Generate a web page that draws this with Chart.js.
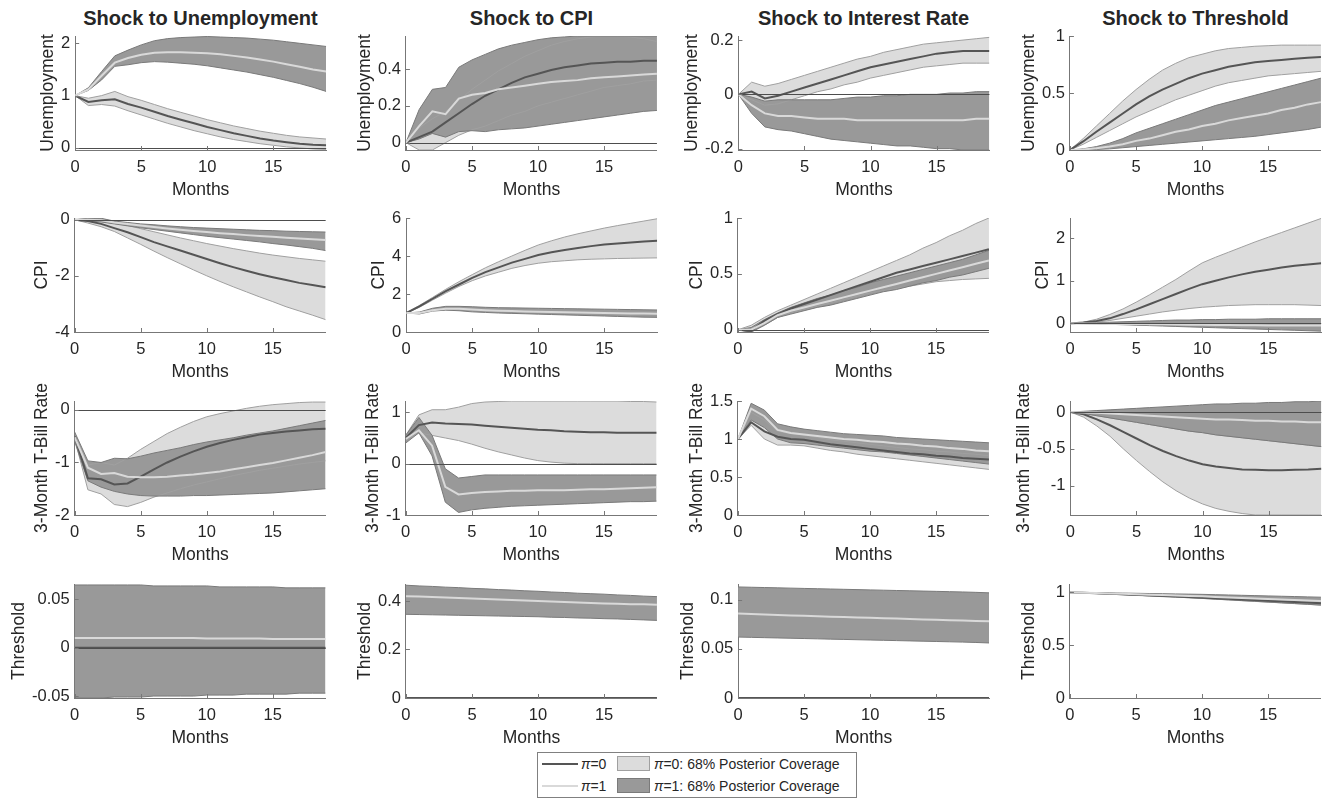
<!DOCTYPE html>
<html>
<head>
<meta charset="utf-8">
<script src="https://cdn.jsdelivr.net/npm/chart.js@4/dist/chart.umd.min.js"></script>
<style>
  body { margin: 0; width: 1326px; height: 798px; background: #fff; position: relative; overflow: hidden;
         font-family: "Liberation Sans", Arial, sans-serif; color: #262626; }
  canvas { position: absolute; }
  .ttl { position: absolute; top: 7px; width: 251px; text-align: center; font-weight: bold; font-size: 20px; white-space: nowrap; }
  #legend { position: absolute; left: 537px; top: 752px; width: 318px; height: 44px; border: 1px solid #808080;
            background: #fff; font-size: 14px; }
  #legend .row { position: absolute; left: 0; height: 22px; width: 100%; }
  #legend .ln { position: absolute; left: 4px; top: 10px; width: 36px; height: 2px; }
  #legend .lt { position: absolute; left: 43px; top: 3px; }
  #legend .bx { position: absolute; left: 79px; top: 3px; width: 33px; height: 15px; box-sizing: border-box; }
  #legend .bt { position: absolute; left: 116px; top: 3px; }
</style>
</head>
<body>
<div id="legend">
  <div class="row" style="top:0">
    <div class="ln" style="background:#555"></div><div class="lt"><i>π</i>=0</div>
    <div class="bx" style="background:#dcdcdc;border:1px solid #a0a0a0"></div><div class="bt"><i>π</i>=0: 68% Posterior Coverage</div>
  </div>
  <div class="row" style="top:22px">
    <div class="ln" style="background:#d9d9d9"></div><div class="lt"><i>π</i>=1</div>
    <div class="bx" style="background:#999;border:1px solid #7a7a7a"></div><div class="bt"><i>π</i>=1: 68% Posterior Coverage</div>
  </div>
</div>
<script>
const months = [0, 1, 2, 3, 4, 5, 6, 7, 8, 9, 10, 11, 12, 13, 14, 15, 16, 17, 18, 19];
const xTicks = [0, 5, 10, 15];
const shockTitles = ['Shock to Unemployment', 'Shock to CPI', 'Shock to Interest Rate', 'Shock to Threshold'];
const varLabels = ['Unemployment', 'CPI', '3-Month T-Bill Rate', 'Threshold'];

// m0 = pi=0 median, lo0/hi0 = its 68% band; m1/lo1/hi1 = same for pi=1
// row 1: unemployment
const r1c1_m0 = [1, 0.88, 0.91, 0.93, 0.84, 0.77, 0.69, 0.61, 0.54, 0.47, 0.40, 0.34, 0.28, 0.23, 0.18, 0.14, 0.11, 0.08, 0.06, 0.05];
const r1c1_hi0 = [1, 0.95, 1.0, 1.08, 0.98, 0.91, 0.83, 0.75, 0.68, 0.61, 0.54, 0.48, 0.42, 0.37, 0.32, 0.28, 0.24, 0.21, 0.19, 0.17];
const r1c1_lo0 = [1, 0.81, 0.83, 0.8, 0.71, 0.63, 0.55, 0.47, 0.4, 0.33, 0.27, 0.21, 0.16, 0.12, 0.08, 0.05, 0.02, 0.0, -0.02, -0.03];
const r1c1_m1 = [1, 1.12, 1.38, 1.63, 1.72, 1.78, 1.82, 1.83, 1.83, 1.82, 1.81, 1.79, 1.76, 1.73, 1.69, 1.65, 1.6, 1.55, 1.5, 1.46];
const r1c1_hi1 = [1, 1.15, 1.46, 1.76, 1.87, 1.97, 2.05, 2.09, 2.11, 2.12, 2.13, 2.12, 2.11, 2.1, 2.08, 2.06, 2.03, 2.0, 1.97, 1.94];
const r1c1_lo1 = [1, 1.1, 1.3, 1.56, 1.59, 1.63, 1.65, 1.64, 1.62, 1.6, 1.57, 1.53, 1.49, 1.45, 1.4, 1.35, 1.29, 1.23, 1.16, 1.08];

const r1c2_m0 = [0, 0.03, 0.06, 0.11, 0.16, 0.21, 0.255, 0.29, 0.325, 0.355, 0.375, 0.395, 0.41, 0.42, 0.43, 0.435, 0.44, 0.44, 0.445, 0.445];
const r1c2_hi0 = [0, 0.08, 0.13, 0.17, 0.23, 0.29, 0.34, 0.39, 0.43, 0.47, 0.5, 0.53, 0.55, 0.565, 0.575, 0.58, 0.58, 0.575, 0.565, 0.55];
const r1c2_lo0 = [0, -0.04, -0.04, 0.0, 0.04, 0.07, 0.09, 0.12, 0.15, 0.17, 0.2, 0.22, 0.24, 0.26, 0.28, 0.3, 0.31, 0.32, 0.335, 0.34];
const r1c2_m1 = [0, 0.09, 0.17, 0.155, 0.24, 0.26, 0.27, 0.29, 0.3, 0.31, 0.32, 0.33, 0.335, 0.34, 0.35, 0.355, 0.36, 0.365, 0.37, 0.375];
const r1c2_hi1 = [0, 0.18, 0.29, 0.3, 0.41, 0.45, 0.48, 0.51, 0.53, 0.545, 0.56, 0.57, 0.575, 0.58, 0.58, 0.58, 0.58, 0.58, 0.58, 0.58];
const r1c2_lo1 = [0, 0.02, 0.05, 0.03, 0.06, 0.065, 0.06, 0.07, 0.075, 0.08, 0.09, 0.1, 0.11, 0.12, 0.13, 0.14, 0.15, 0.16, 0.17, 0.175];

const r1c3_m0 = [0, 0.01, -0.015, -0.005, 0.01, 0.025, 0.04, 0.055, 0.07, 0.085, 0.1, 0.11, 0.12, 0.13, 0.14, 0.15, 0.155, 0.16, 0.16, 0.16];
const r1c3_hi0 = [0, 0.045, 0.03, 0.04, 0.055, 0.07, 0.085, 0.1, 0.115, 0.13, 0.14, 0.155, 0.165, 0.175, 0.185, 0.19, 0.195, 0.2, 0.205, 0.21];
const r1c3_lo0 = [0, -0.02, -0.04, -0.035, -0.02, -0.005, 0.01, 0.02, 0.035, 0.045, 0.06, 0.07, 0.08, 0.09, 0.1, 0.105, 0.11, 0.115, 0.115, 0.115];
const r1c3_m1 = [0, -0.04, -0.07, -0.08, -0.08, -0.085, -0.09, -0.09, -0.09, -0.095, -0.095, -0.095, -0.095, -0.095, -0.095, -0.095, -0.095, -0.095, -0.09, -0.09];
const r1c3_hi1 = [0, -0.01, -0.025, -0.02, -0.02, -0.02, -0.02, -0.02, -0.015, -0.01, -0.01, -0.005, -0.005, 0, 0, 0, 0.005, 0.005, 0.01, 0.01];
const r1c3_lo1 = [0, -0.07, -0.12, -0.13, -0.135, -0.145, -0.155, -0.165, -0.17, -0.175, -0.18, -0.185, -0.19, -0.19, -0.195, -0.2, -0.2, -0.205, -0.205, -0.205];

const r1c4_m0 = [0, 0.075, 0.16, 0.24, 0.32, 0.4, 0.47, 0.53, 0.58, 0.63, 0.67, 0.7, 0.73, 0.75, 0.77, 0.78, 0.79, 0.8, 0.81, 0.815];
const r1c4_hi0 = [0, 0.1, 0.21, 0.32, 0.43, 0.53, 0.62, 0.7, 0.76, 0.81, 0.84, 0.87, 0.89, 0.9, 0.91, 0.915, 0.92, 0.92, 0.92, 0.92];
const r1c4_lo0 = [0, 0.05, 0.11, 0.17, 0.23, 0.29, 0.34, 0.39, 0.44, 0.48, 0.52, 0.56, 0.59, 0.61, 0.63, 0.65, 0.66, 0.67, 0.68, 0.69];
const r1c4_m1 = [0, 0.005, 0.015, 0.03, 0.05, 0.08, 0.1, 0.13, 0.16, 0.18, 0.21, 0.23, 0.26, 0.28, 0.3, 0.32, 0.35, 0.37, 0.4, 0.42];
const r1c4_hi1 = [0, 0.01, 0.03, 0.06, 0.1, 0.15, 0.19, 0.23, 0.27, 0.31, 0.35, 0.39, 0.42, 0.45, 0.48, 0.51, 0.54, 0.57, 0.6, 0.63];
const r1c4_lo1 = [0, 0, 0.005, 0.01, 0.02, 0.03, 0.04, 0.05, 0.06, 0.07, 0.08, 0.09, 0.1, 0.11, 0.12, 0.135, 0.15, 0.165, 0.18, 0.2];

// row 2: CPI
const r2c1_m0 = [0, -0.05, -0.15, -0.3, -0.45, -0.62, -0.8, -0.95, -1.1, -1.25, -1.4, -1.55, -1.69, -1.82, -1.94, -2.05, -2.15, -2.25, -2.33, -2.41];
const r2c1_hi0 = [0, 0.04, 0.02, -0.08, -0.2, -0.32, -0.43, -0.54, -0.65, -0.75, -0.85, -0.94, -1.03, -1.11, -1.19, -1.26, -1.32, -1.38, -1.43, -1.48];
const r2c1_lo0 = [0, -0.12, -0.25, -0.42, -0.65, -0.88, -1.12, -1.35, -1.57, -1.79, -2.0, -2.2, -2.39, -2.57, -2.75, -2.92, -3.1, -3.25, -3.4, -3.56];
const r2c1_m1 = [0, 0, -0.02, -0.1, -0.15, -0.21, -0.26, -0.31, -0.36, -0.4, -0.44, -0.48, -0.51, -0.55, -0.58, -0.61, -0.64, -0.67, -0.7, -0.72];
const r2c1_hi1 = [0, 0.05, 0.05, -0.05, -0.1, -0.15, -0.18, -0.22, -0.25, -0.28, -0.3, -0.32, -0.34, -0.36, -0.38, -0.39, -0.41, -0.42, -0.43, -0.44];
const r2c1_lo1 = [0, -0.04, -0.08, -0.15, -0.22, -0.29, -0.35, -0.41, -0.47, -0.53, -0.59, -0.64, -0.69, -0.74, -0.79, -0.85, -0.9, -0.96, -1.02, -1.1];

const r2c2_m0 = [1, 1.35, 1.75, 2.15, 2.5, 2.85, 3.15, 3.4, 3.65, 3.85, 4.05, 4.2, 4.32, 4.42, 4.52, 4.6, 4.66, 4.71, 4.76, 4.8];
const r2c2_hi0 = [1, 1.4, 1.82, 2.25, 2.65, 3.02, 3.38, 3.7, 4.0, 4.3, 4.58, 4.8, 5.0, 5.17, 5.32, 5.47, 5.6, 5.72, 5.84, 5.96];
const r2c2_lo0 = [1, 1.3, 1.68, 2.05, 2.4, 2.7, 2.95, 3.15, 3.35, 3.5, 3.62, 3.7, 3.75, 3.8, 3.83, 3.85, 3.87, 3.88, 3.89, 3.9];
const r2c2_m1 = [1, 1.0, 1.15, 1.22, 1.22, 1.18, 1.15, 1.12, 1.1, 1.08, 1.06, 1.05, 1.04, 1.02, 1.01, 1.0, 0.99, 0.98, 0.97, 0.96];
const r2c2_hi1 = [1, 1.05, 1.25, 1.35, 1.35, 1.33, 1.3, 1.28, 1.27, 1.26, 1.25, 1.24, 1.23, 1.22, 1.21, 1.2, 1.19, 1.18, 1.17, 1.16];
const r2c2_lo1 = [1, 0.95, 1.1, 1.15, 1.12, 1.06, 1.03, 1.0, 0.98, 0.96, 0.94, 0.92, 0.9, 0.88, 0.86, 0.84, 0.82, 0.8, 0.78, 0.77];

const r2c3_m0 = [0, -0.01, 0.08, 0.14, 0.19, 0.23, 0.27, 0.31, 0.35, 0.39, 0.43, 0.47, 0.51, 0.54, 0.57, 0.6, 0.63, 0.66, 0.69, 0.72];
const r2c3_hi0 = [0, 0.04, 0.11, 0.17, 0.22, 0.27, 0.32, 0.37, 0.42, 0.47, 0.52, 0.57, 0.62, 0.67, 0.73, 0.78, 0.84, 0.89, 0.95, 1.0];
const r2c3_lo0 = [0, -0.02, 0.04, 0.11, 0.15, 0.18, 0.21, 0.24, 0.27, 0.3, 0.33, 0.35, 0.37, 0.39, 0.41, 0.43, 0.44, 0.45, 0.455, 0.46];
const r2c3_m1 = [0, 0.0, 0.06, 0.13, 0.17, 0.2, 0.23, 0.26, 0.29, 0.32, 0.35, 0.38, 0.41, 0.44, 0.47, 0.5, 0.53, 0.56, 0.59, 0.62];
const r2c3_hi1 = [0, 0.02, 0.09, 0.15, 0.2, 0.24, 0.28, 0.31, 0.35, 0.38, 0.42, 0.45, 0.48, 0.51, 0.54, 0.57, 0.6, 0.63, 0.67, 0.71];
const r2c3_lo1 = [0, -0.02, 0.04, 0.11, 0.14, 0.17, 0.2, 0.22, 0.25, 0.28, 0.31, 0.34, 0.36, 0.39, 0.42, 0.44, 0.47, 0.49, 0.52, 0.55];

const r2c4_m0 = [0, 0.02, 0.06, 0.12, 0.22, 0.33, 0.45, 0.57, 0.69, 0.81, 0.92, 1.0, 1.08, 1.15, 1.21, 1.26, 1.31, 1.35, 1.38, 1.41];
const r2c4_hi0 = [0, 0.03, 0.1, 0.21, 0.34, 0.5, 0.67, 0.85, 1.03, 1.23, 1.42, 1.55, 1.67, 1.79, 1.91, 2.02, 2.13, 2.24, 2.35, 2.46];
const r2c4_lo0 = [0, 0.01, 0.03, 0.07, 0.12, 0.17, 0.22, 0.27, 0.31, 0.35, 0.38, 0.4, 0.42, 0.43, 0.44, 0.44, 0.44, 0.44, 0.43, 0.42];
const r2c4_m1 = [0, 0, -0.005, -0.01, -0.01, -0.015, -0.02, -0.02, -0.025, -0.03, -0.03, -0.035, -0.035, -0.04, -0.04, -0.045, -0.045, -0.05, -0.05, -0.05];
const r2c4_hi1 = [0, 0.01, 0.02, 0.03, 0.04, 0.05, 0.06, 0.07, 0.08, 0.08, 0.09, 0.09, 0.1, 0.1, 0.1, 0.11, 0.11, 0.11, 0.11, 0.11];
const r2c4_lo1 = [0, -0.005, -0.01, -0.02, -0.03, -0.04, -0.05, -0.06, -0.07, -0.08, -0.09, -0.1, -0.11, -0.12, -0.13, -0.14, -0.15, -0.16, -0.17, -0.18];

// row 3: 3-month T-bill rate
const r3c1_m0 = [-0.5, -1.3, -1.32, -1.42, -1.4, -1.27, -1.13, -1.0, -0.89, -0.79, -0.7, -0.63, -0.57, -0.52, -0.47, -0.44, -0.41, -0.39, -0.37, -0.36];
const r3c1_hi0 = [-0.45, -1.05, -1.0, -1.05, -0.92, -0.75, -0.6, -0.45, -0.33, -0.22, -0.13, -0.07, -0.02, 0.03, 0.07, 0.1, 0.12, 0.14, 0.15, 0.15];
const r3c1_lo0 = [-0.55, -1.52, -1.6, -1.8, -1.84, -1.76, -1.66, -1.58, -1.5, -1.43, -1.37, -1.31, -1.25, -1.2, -1.15, -1.11, -1.07, -1.03, -1.0, -0.97];
const r3c1_m1 = [-0.52, -1.1, -1.22, -1.2, -1.27, -1.28, -1.28, -1.27, -1.25, -1.23, -1.2, -1.17, -1.13, -1.09, -1.05, -1.01, -0.96, -0.91, -0.86, -0.8];
const r3c1_hi1 = [-0.42, -0.97, -1.0, -0.92, -0.93, -0.88, -0.82, -0.77, -0.72, -0.66, -0.61, -0.57, -0.53, -0.48, -0.44, -0.4, -0.35, -0.3, -0.25, -0.2];
const r3c1_lo1 = [-0.6, -1.35, -1.47, -1.55, -1.6, -1.63, -1.64, -1.64, -1.64, -1.63, -1.63, -1.62, -1.61, -1.6, -1.59, -1.58, -1.56, -1.54, -1.52, -1.5];

const r3c2_m0 = [0.5, 0.75, 0.8, 0.78, 0.77, 0.76, 0.74, 0.72, 0.7, 0.68, 0.66, 0.65, 0.63, 0.62, 0.61, 0.61, 0.6, 0.6, 0.6, 0.6];
const r3c2_hi0 = [0.55, 0.95, 1.05, 1.05, 1.1, 1.17, 1.2, 1.21, 1.22, 1.22, 1.22, 1.22, 1.22, 1.22, 1.22, 1.22, 1.22, 1.21, 1.21, 1.2];
const r3c2_lo0 = [0.45, 0.6, 0.55, 0.5, 0.45, 0.38, 0.3, 0.23, 0.17, 0.11, 0.06, 0.03, 0.01, 0.0, 0, 0, 0, 0, 0, 0];
const r3c2_m1 = [0.48, 0.65, 0.35, -0.45, -0.6, -0.57, -0.55, -0.54, -0.53, -0.53, -0.52, -0.52, -0.52, -0.51, -0.5, -0.5, -0.49, -0.48, -0.47, -0.46];
const r3c2_hi1 = [0.55, 0.9, 0.55, -0.1, -0.28, -0.25, -0.22, -0.22, -0.22, -0.22, -0.22, -0.22, -0.22, -0.22, -0.22, -0.22, -0.22, -0.22, -0.22, -0.22];
const r3c2_lo1 = [0.4, 0.6, 0.15, -0.75, -0.95, -0.9, -0.87, -0.85, -0.83, -0.82, -0.81, -0.8, -0.79, -0.78, -0.77, -0.76, -0.75, -0.74, -0.74, -0.73];

const r3c3_m0 = [1.0, 1.22, 1.1, 1.03, 1.0, 0.99, 0.96, 0.93, 0.91, 0.89, 0.87, 0.85, 0.83, 0.81, 0.8, 0.78, 0.77, 0.75, 0.74, 0.73];
const r3c3_hi0 = [1.0, 1.35, 1.25, 1.1, 1.07, 1.05, 1.02, 0.99, 0.97, 0.95, 0.93, 0.91, 0.89, 0.87, 0.86, 0.84, 0.83, 0.81, 0.8, 0.78];
const r3c3_lo0 = [1.0, 1.18, 1.0, 0.92, 0.92, 0.91, 0.88, 0.85, 0.83, 0.8, 0.78, 0.76, 0.74, 0.72, 0.7, 0.68, 0.66, 0.64, 0.62, 0.6];
const r3c3_m1 = [1.0, 1.4, 1.3, 1.12, 1.08, 1.06, 1.04, 1.02, 1.0, 0.99, 0.97, 0.96, 0.94, 0.93, 0.91, 0.9, 0.88, 0.87, 0.85, 0.84];
const r3c3_hi1 = [1.0, 1.47, 1.38, 1.2, 1.16, 1.13, 1.11, 1.09, 1.07, 1.06, 1.05, 1.04, 1.02, 1.01, 1.0, 0.99, 0.98, 0.97, 0.96, 0.95];
const r3c3_lo1 = [1.0, 1.25, 1.15, 1.0, 0.95, 0.94, 0.92, 0.9, 0.88, 0.86, 0.84, 0.83, 0.81, 0.79, 0.77, 0.75, 0.73, 0.71, 0.69, 0.67];

const r3c4_m0 = [0, -0.03, -0.1, -0.18, -0.27, -0.36, -0.45, -0.53, -0.6, -0.66, -0.71, -0.74, -0.76, -0.78, -0.785, -0.79, -0.79, -0.785, -0.78, -0.77];
const r3c4_hi0 = [0, -0.02, -0.05, -0.08, -0.11, -0.14, -0.17, -0.2, -0.23, -0.26, -0.28, -0.31, -0.33, -0.35, -0.37, -0.39, -0.41, -0.43, -0.45, -0.47];
const r3c4_lo0 = [0, -0.07, -0.19, -0.33, -0.5, -0.66, -0.81, -0.95, -1.07, -1.17, -1.25, -1.31, -1.35, -1.38, -1.4, -1.4, -1.4, -1.4, -1.4, -1.4];
const r3c4_m1 = [0, -0.005, -0.01, -0.02, -0.03, -0.04, -0.05, -0.06, -0.07, -0.08, -0.09, -0.1, -0.1, -0.11, -0.12, -0.12, -0.13, -0.13, -0.14, -0.14];
const r3c4_hi1 = [0, 0.01, 0.02, 0.03, 0.04, 0.05, 0.06, 0.07, 0.08, 0.09, 0.1, 0.11, 0.11, 0.12, 0.12, 0.13, 0.13, 0.14, 0.14, 0.15];
const r3c4_lo1 = [0, -0.02, -0.05, -0.08, -0.11, -0.14, -0.17, -0.2, -0.23, -0.26, -0.28, -0.31, -0.33, -0.35, -0.37, -0.39, -0.41, -0.43, -0.45, -0.47];

// row 4: threshold
const r4c1_m0 = [0, 0, 0, 0, 0, 0, 0, 0, 0, 0, 0, 0, 0, 0, 0, 0, 0, 0, 0, 0];
const r4c1_hi0 = [0, 0, 0, 0, 0, 0, 0, 0, 0, 0, 0, 0, 0, 0, 0, 0, 0, 0, 0, 0];
const r4c1_lo0 = [0, 0, 0, 0, 0, 0, 0, 0, 0, 0, 0, 0, 0, 0, 0, 0, 0, 0, 0, 0];
const r4c1_m1 = [0.01, 0.01, 0.01, 0.01, 0.01, 0.01, 0.01, 0.01, 0.01, 0.01, 0.0095, 0.0095, 0.0095, 0.0095, 0.0095, 0.009, 0.009, 0.009, 0.009, 0.009];
const r4c1_hi1 = [0.065, 0.065, 0.065, 0.065, 0.065, 0.065, 0.064, 0.064, 0.064, 0.064, 0.064, 0.063, 0.063, 0.063, 0.063, 0.063, 0.062, 0.062, 0.062, 0.062];
const r4c1_lo1 = [-0.052, -0.052, -0.052, -0.051, -0.051, -0.051, -0.05, -0.05, -0.05, -0.05, -0.049, -0.049, -0.049, -0.048, -0.048, -0.048, -0.048, -0.047, -0.047, -0.047];

const r4c2_m0 = [0, 0, 0, 0, 0, 0, 0, 0, 0, 0, 0, 0, 0, 0, 0, 0, 0, 0, 0, 0];
const r4c2_hi0 = [0, 0, 0, 0, 0, 0, 0, 0, 0, 0, 0, 0, 0, 0, 0, 0, 0, 0, 0, 0];
const r4c2_lo0 = [0, 0, 0, 0, 0, 0, 0, 0, 0, 0, 0, 0, 0, 0, 0, 0, 0, 0, 0, 0];
const r4c2_m1 = [0.42, 0.418, 0.416, 0.414, 0.412, 0.41, 0.408, 0.406, 0.404, 0.402, 0.4, 0.398, 0.396, 0.394, 0.392, 0.39, 0.389, 0.387, 0.386, 0.384];
const r4c2_hi1 = [0.465, 0.462, 0.46, 0.457, 0.455, 0.452, 0.45, 0.447, 0.445, 0.442, 0.44, 0.437, 0.435, 0.432, 0.43, 0.428, 0.425, 0.423, 0.42, 0.418];
const r4c2_lo1 = [0.345, 0.344, 0.343, 0.342, 0.341, 0.34, 0.339, 0.338, 0.337, 0.336, 0.335, 0.333, 0.332, 0.33, 0.329, 0.327, 0.326, 0.324, 0.322, 0.32];

const r4c3_m0 = [0, 0, 0, 0, 0, 0, 0, 0, 0, 0, 0, 0, 0, 0, 0, 0, 0, 0, 0, 0];
const r4c3_hi0 = [0, 0, 0, 0, 0, 0, 0, 0, 0, 0, 0, 0, 0, 0, 0, 0, 0, 0, 0, 0];
const r4c3_lo0 = [0, 0, 0, 0, 0, 0, 0, 0, 0, 0, 0, 0, 0, 0, 0, 0, 0, 0, 0, 0];
const r4c3_m1 = [0.086, 0.0855, 0.085, 0.0845, 0.084, 0.0836, 0.0832, 0.0828, 0.0824, 0.082, 0.0816, 0.0812, 0.0808, 0.0804, 0.08, 0.0796, 0.0792, 0.0788, 0.0784, 0.078];
const r4c3_hi1 = [0.113, 0.1127, 0.1124, 0.1121, 0.1118, 0.1115, 0.1112, 0.1109, 0.1106, 0.1103, 0.11, 0.1097, 0.1094, 0.1091, 0.1088, 0.1085, 0.1082, 0.1079, 0.1075, 0.107];
const r4c3_lo1 = [0.062, 0.0617, 0.0614, 0.0611, 0.0608, 0.0605, 0.0602, 0.0599, 0.0596, 0.0593, 0.059, 0.0587, 0.0584, 0.0581, 0.0578, 0.0575, 0.0572, 0.0569, 0.0565, 0.056];

const r4c4_m0 = [1, 0.996, 0.992, 0.988, 0.983, 0.978, 0.973, 0.968, 0.963, 0.958, 0.952, 0.946, 0.94, 0.934, 0.928, 0.922, 0.916, 0.91, 0.904, 0.898];
const r4c4_hi0 = [1, 0.998, 0.995, 0.992, 0.988, 0.984, 0.98, 0.976, 0.971, 0.966, 0.961, 0.956, 0.951, 0.946, 0.941, 0.936, 0.931, 0.926, 0.921, 0.916];
const r4c4_lo0 = [1, 0.994, 0.989, 0.984, 0.978, 0.972, 0.966, 0.96, 0.955, 0.95, 0.943, 0.936, 0.929, 0.922, 0.915, 0.908, 0.901, 0.894, 0.887, 0.88];
const r4c4_m1 = [1, 0.997, 0.994, 0.99, 0.987, 0.983, 0.979, 0.975, 0.971, 0.967, 0.963, 0.958, 0.953, 0.948, 0.943, 0.938, 0.933, 0.928, 0.923, 0.918];
const r4c4_hi1 = [1, 1, 0.998, 0.996, 0.994, 0.992, 0.99, 0.988, 0.986, 0.984, 0.982, 0.979, 0.976, 0.973, 0.97, 0.967, 0.964, 0.961, 0.958, 0.955];
const r4c4_lo1 = [1, 0.995, 0.99, 0.985, 0.98, 0.974, 0.968, 0.962, 0.956, 0.95, 0.944, 0.937, 0.93, 0.923, 0.916, 0.909, 0.902, 0.895, 0.888, 0.88];

// y ranges and tick labels per row (columns 1..4)
const yRange = [
  [[-0.04, 2.14], [-0.04, 0.58], [-0.205, 0.215], [0, 1]],
  [[-4, 0.06], [0, 6], [-0.02, 1], [-0.2, 2.47]],
  [[-2, 0.17], [-1, 1.22], [0, 1.5], [-1.4, 0.15]],
  [[-0.052, 0.066], [0, 0.47], [0, 0.116], [0, 1.08]]
];
const yTicks = [
  [[0, 1, 2], [0, 0.2, 0.4], [-0.2, 0, 0.2], [0, 0.5, 1]],
  [[-4, -2, 0], [0, 2, 4, 6], [0, 0.5, 1], [0, 1, 2]],
  [[-2, -1, 0], [-1, 0, 1], [0, 0.5, 1, 1.5], [-1, -0.5, 0]],
  [[-0.05, 0, 0.05], [0, 0.2, 0.4], [0, 0.05, 0.1], [0, 0.5, 1]]
];

const panelData = [
  [[r1c1_m0, r1c1_lo0, r1c1_hi0, r1c1_m1, r1c1_lo1, r1c1_hi1], [r1c2_m0, r1c2_lo0, r1c2_hi0, r1c2_m1, r1c2_lo1, r1c2_hi1],
   [r1c3_m0, r1c3_lo0, r1c3_hi0, r1c3_m1, r1c3_lo1, r1c3_hi1], [r1c4_m0, r1c4_lo0, r1c4_hi0, r1c4_m1, r1c4_lo1, r1c4_hi1]],
  [[r2c1_m0, r2c1_lo0, r2c1_hi0, r2c1_m1, r2c1_lo1, r2c1_hi1], [r2c2_m0, r2c2_lo0, r2c2_hi0, r2c2_m1, r2c2_lo1, r2c2_hi1],
   [r2c3_m0, r2c3_lo0, r2c3_hi0, r2c3_m1, r2c3_lo1, r2c3_hi1], [r2c4_m0, r2c4_lo0, r2c4_hi0, r2c4_m1, r2c4_lo1, r2c4_hi1]],
  [[r3c1_m0, r3c1_lo0, r3c1_hi0, r3c1_m1, r3c1_lo1, r3c1_hi1], [r3c2_m0, r3c2_lo0, r3c2_hi0, r3c2_m1, r3c2_lo1, r3c2_hi1],
   [r3c3_m0, r3c3_lo0, r3c3_hi0, r3c3_m1, r3c3_lo1, r3c3_hi1], [r3c4_m0, r3c4_lo0, r3c4_hi0, r3c4_m1, r3c4_lo1, r3c4_hi1]],
  [[r4c1_m0, r4c1_lo0, r4c1_hi0, r4c1_m1, r4c1_lo1, r4c1_hi1], [r4c2_m0, r4c2_lo0, r4c2_hi0, r4c2_m1, r4c2_lo1, r4c2_hi1],
   [r4c3_m0, r4c3_lo0, r4c3_hi0, r4c3_m1, r4c3_lo1, r4c3_hi1], [r4c4_m0, r4c4_lo0, r4c4_hi0, r4c4_m1, r4c4_lo1, r4c4_hi1]]
];

// layout (pixels)
const plotLeft = [75, 406, 738, 1070];
const plotTop = [36, 218, 401, 584];
const PLOT_W = 251, PLOT_H = 114, PAD_T = 40, CW = 360, CH = 250;

const txt = '#262626', axisCol = '#777777';
const lightFill = '#dcdcdc', lightEdge = '#a0a0a0', darkFill = '#999999', darkEdge = '#7a7a7a';
const line0 = '#555555', line1 = '#d9d9d9';

// zero line + inward tick marks, MATLAB style
const extras = {
  id: 'extras',
  afterDatasetsDraw(chart) {
    const { ctx, chartArea: a, scales: { x, y } } = chart;
    ctx.save();
    if (y.min < 0 && y.max > 0) {
      const z = Math.round(y.getPixelForValue(0)) + 0.5;
      ctx.strokeStyle = '#4d4d4d'; ctx.lineWidth = 1;
      ctx.beginPath(); ctx.moveTo(a.left, z); ctx.lineTo(a.right, z); ctx.stroke();
    }
    ctx.strokeStyle = axisCol; ctx.lineWidth = 1;
    ctx.beginPath();
    x.ticks.forEach(t => {
      const px = Math.round(x.getPixelForValue(t.value)) + 0.5;
      ctx.moveTo(px, a.bottom); ctx.lineTo(px, a.bottom - 4);
    });
    y.ticks.forEach(t => {
      const py = Math.round(y.getPixelForValue(t.value)) + 0.5;
      ctx.moveTo(a.left, py); ctx.lineTo(a.left + 4, py);
    });
    ctx.stroke();
    ctx.restore();
  }
};

const pts = arr => arr.map((v, i) => ({ x: months[i], y: v }));
const edge = (data, color, fill, bg, order) => ({
  data: pts(data), borderColor: color, borderWidth: 1, backgroundColor: bg, fill: fill, order: order
});

function makePanel(r, c) {
  const [m0, lo0, hi0, m1, lo1, hi1] = panelData[r][c];
  const cv = document.createElement('canvas');
  cv.width = CW; cv.height = CH;
  document.body.appendChild(cv);

  const chart = new Chart(cv, {
    type: 'line',
    data: {
      datasets: [
        edge(hi0, lightEdge, '+1', lightFill, 6),
        edge(lo0, lightEdge, false, lightFill, 6),
        edge(hi1, darkEdge, '+1', darkFill, 5),
        edge(lo1, darkEdge, false, darkFill, 5),
        { data: pts(m0), borderColor: line0, borderWidth: 2, fill: false, order: 2 },
        { data: pts(m1), borderColor: line1, borderWidth: 2, fill: false, order: 1 }
      ]
    },
    options: {
      responsive: false,
      animation: false,
      devicePixelRatio: 1,
      layout: { padding: { top: PAD_T, right: 20, bottom: 0, left: 0 } },
      elements: { point: { radius: 0 }, line: { tension: 0 } },
      plugins: {
        legend: { display: false },
        tooltip: { enabled: false },
        filler: { drawTime: 'beforeDatasetsDraw' }
      },
      scales: {
        x: {
          type: 'linear', min: 0, max: 19,
          afterBuildTicks: s => { s.ticks = xTicks.map(v => ({ value: v })); },
          grid: { display: false, drawTicks: false },
          border: { display: true, color: axisCol, width: 1 },
          ticks: { color: txt, font: { family: 'Liberation Sans', size: 16.5 }, padding: 8, maxRotation: 0 },
          title: { display: true, text: 'Months', color: txt, font: { family: 'Liberation Sans', size: 17.5 }, padding: { top: -6, bottom: 0 } }
        },
        y: {
          min: yRange[r][c][0], max: yRange[r][c][1],
          afterBuildTicks: s => { s.ticks = yTicks[r][c].map(v => ({ value: v })); },
          grid: { display: false, drawTicks: false },
          border: { display: true, color: axisCol, width: 1 },
          ticks: { color: txt, font: { family: 'Liberation Sans', size: 16.5 }, padding: 5, callback: v => String(v) },
          title: { display: true, text: varLabels[r], color: txt, font: { family: 'Liberation Sans', size: 17.5 }, padding: { top: 0, bottom: -3 } }
        }
      }
    },
    plugins: [extras]
  });

  // second pass: pin the plot area to the reference position and size
  const a = chart.chartArea;
  const xAxisH = CH - a.bottom;
  chart.options.layout.padding.right = CW - a.left - PLOT_W;
  chart.options.layout.padding.bottom = CH - PAD_T - PLOT_H - xAxisH;
  chart.update('none');
  cv.style.left = (plotLeft[c] - a.left) + 'px';
  cv.style.top = (plotTop[r] - PAD_T) + 'px';
}

for (let c = 0; c < 4; c++) {
  const t = document.createElement('div');
  t.className = 'ttl';
  t.style.left = plotLeft[c] + 'px';
  t.textContent = shockTitles[c];
  document.body.appendChild(t);
}
for (let r = 0; r < 4; r++) {
  for (let c = 0; c < 4; c++) makePanel(r, c);
}
</script>
</body>
</html>
